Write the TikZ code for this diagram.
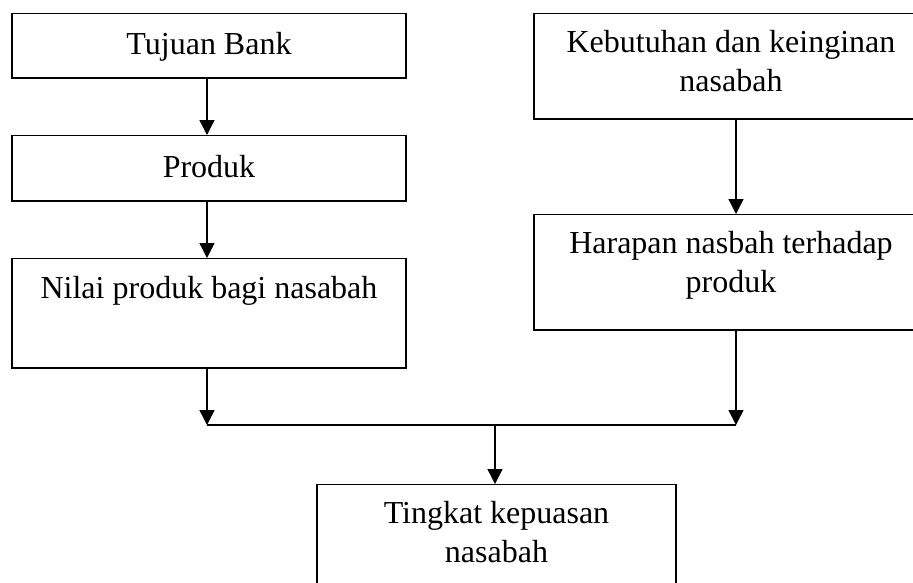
\documentclass[tikz,border=0pt]{standalone}
\usepackage{fontspec}
\setmainfont{Liberation Serif}
\usetikzlibrary{arrows.meta}
\begin{document}
\begin{tikzpicture}[x=1pt,y=-1pt,
  box/.style={draw, line width=1.4pt, align=center, anchor=north,
    font=\fontsize{32}{39}\selectfont, inner xsep=0pt},
  arr/.style={line width=1.4pt, -{Triangle[length=15pt,width=15pt]}},
  ln/.style={line width=1.4pt}]
\useasboundingbox (0,0) rectangle (913,582);
\fill[white] (0,0) rectangle (913,582);
% left column
\node[box, minimum width=394, inner ysep=19pt, text depth=4pt] (tb) at (209,13) {Tujuan Bank};
\node[box, minimum width=394, inner ysep=20pt, text depth=3pt] (pr) at (209,135) {Produk};
\node[box, minimum width=394, inner ysep=18pt, text depth=51pt] (nl) at (209,258) {Nilai produk bagi nasabah};
% right column
\node[box, minimum width=394, inner ysep=17pt, text depth=10pt] (kb) at (731,13) {Kebutuhan dan keinginan\\nasabah};
\node[box, minimum width=394, inner ysep=17pt, text depth=20pt] (hr) at (731,214) {Harapan nasbah terhadap\\produk};
% bottom
\node[box, minimum width=359, inner ysep=17pt, text depth=60pt] (tk) at (496.5,484) {Tingkat kepuasan\\nasabah};
% junction
\coordinate (jl) at (207,425);
\coordinate (jr) at (736,425);
\coordinate (jm) at (495,425);
\draw[arr] (tb.south -| jl) -- (pr.north -| jl);
\draw[arr] (pr.south -| jl) -- (nl.north -| jl);
\draw[arr] (nl.south -| jl) -- (jl);
\draw[arr] (kb.south -| jr) -- (hr.north -| jr);
\draw[arr] (hr.south -| jr) -- (jr);
\draw[ln] (jl) -- (jr);
\draw[arr] (jm) -- (tk.north -| jm);
\end{tikzpicture}
\end{document}
